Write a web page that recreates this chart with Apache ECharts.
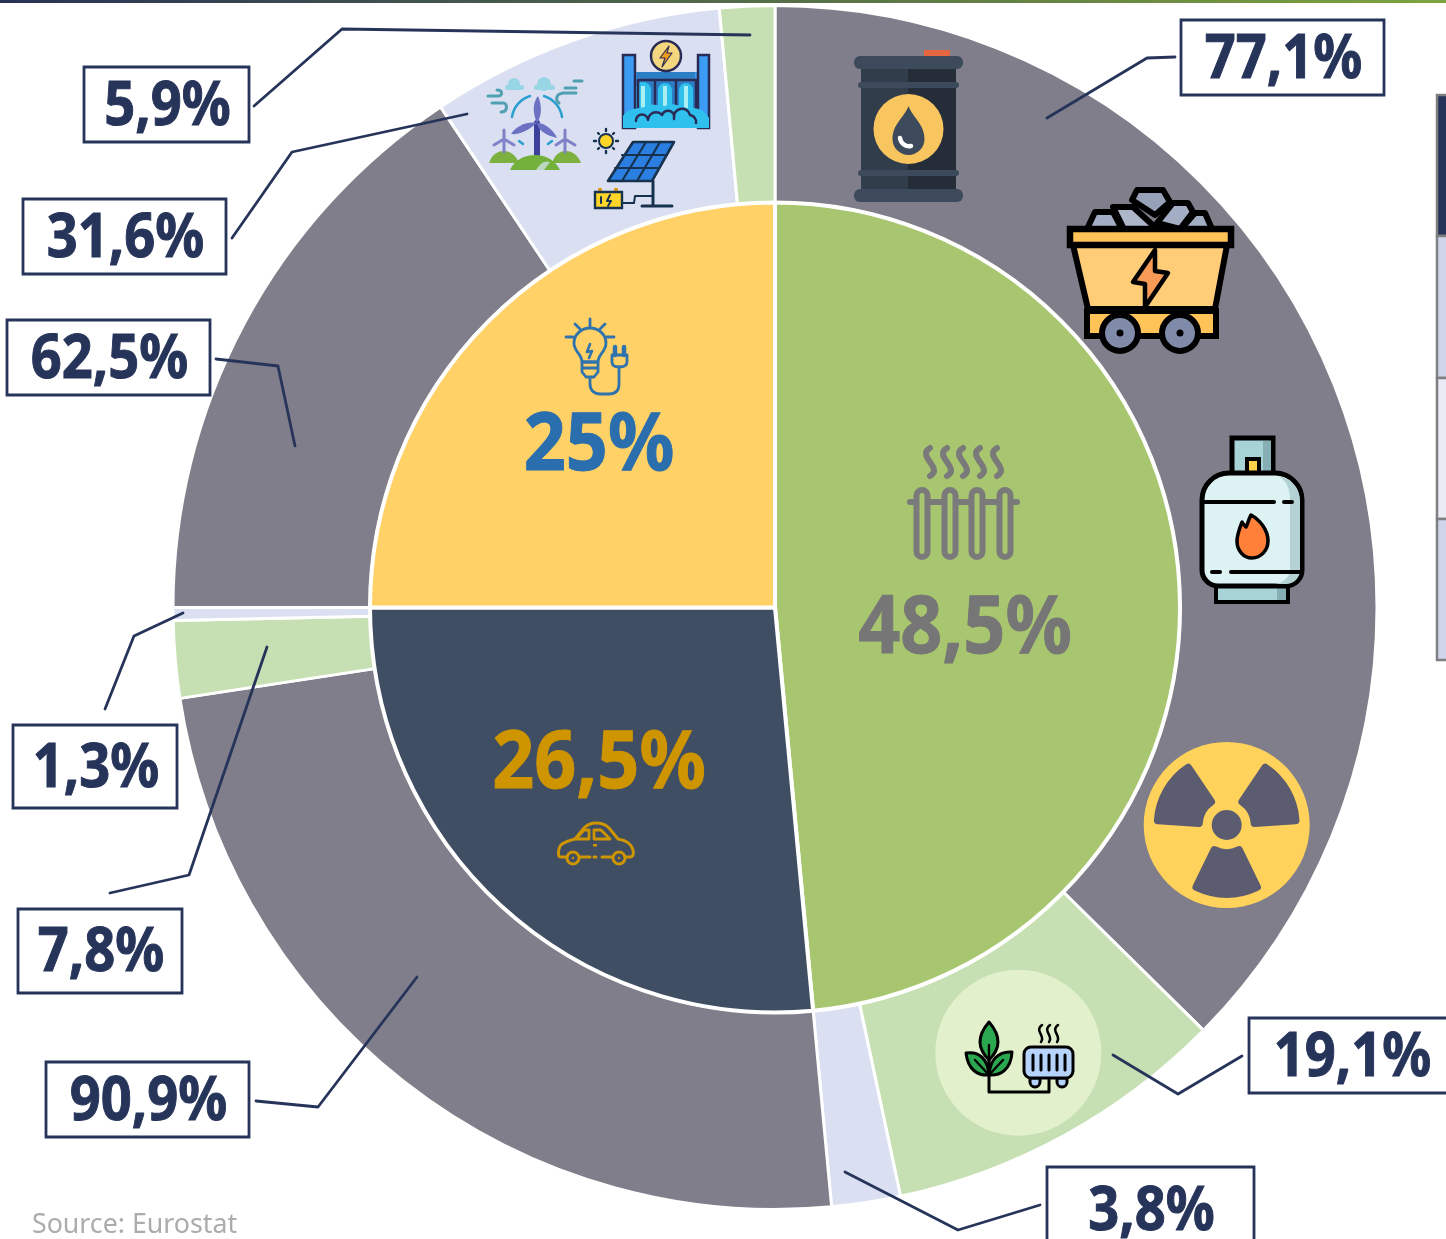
<!DOCTYPE html>
<html lang="en">

<head>
    <meta charset="UTF-8">
    <title>Energy consumption by sector and source</title>
    <script src="https://cdn.jsdelivr.net/npm/echarts@6/dist/echarts.min.js"></script>
    <style>
        html, body { margin: 0; padding: 0; background: #fff; overflow: hidden; }
    </style>
</head>

<body>
    <div id="main" style="width: 1446px; height: 1239px;"></div>
    <script>
        // sector shares, clockwise from the top
        var sectors = ['Heating', 'Transport', 'Electricity'];
        var sectorValues = [48.5, 26.5, 25];
        var sectorLabels = ['48,5%', '26,5%', '25%'];

        // source split inside each sector (percent of that sector)
        var heatingSplit = [77.1, 19.1, 3.8];
        var transportSplit = [90.9, 7.8, 1.3];
        var electricitySplit = [62.5, 31.6, 5.9];
        var splitLabels = [
            ['77,1%', '19,1%', '3,8%'],
            ['90,9%', '7,8%', '1,3%'],
            ['62,5%', '31,6%', '5,9%']
        ];

        var grey = '#7F7E8A', lightGreen = '#C7E0B3', lightBlue = '#DAE0F2';
        var navy = '#27345A';
        var sectorColors = ['#A8C66F', '#3F4E63', '#FFD166'];
        var sectorTextColors = ['#767676', '#CF9500', '#2A6EAD'];
        var splitColors = [
            [grey, lightGreen, lightBlue],
            [grey, lightGreen, lightBlue],
            [grey, lightBlue, lightGreen]
        ];

        var outerData = [];
        [heatingSplit, transportSplit, electricitySplit].forEach(function (split, i) {
            split.forEach(function (pct, j) {
                outerData.push({
                    name: sectors[i] + ' ' + splitLabels[i][j],
                    value: sectorValues[i] * pct / 100,
                    itemStyle: { color: splitColors[i][j] }
                });
            });
        });
        var innerData = sectors.map(function (name, i) {
            return { name: name, value: sectorValues[i], itemStyle: { color: sectorColors[i] } };
        });

        // graphic helpers
        var els = [];
        var FONT = '"Noto Sans", sans-serif';
        var pathCount = 0;
        function add(e) { e.z = 100; e.z2 = els.length; e.silent = true; els.push(e); return e; }
        // the graphic component has no plain path type, so each path is registered as a shape
        function path(d, fill, stroke, lw) {
            var name = 'iconPath' + (pathCount++);
            echarts.graphic.registerShape(name, echarts.graphic.extendPath(d));
            return add({
                type: name, shape: {},
                style: { fill: fill || 'none', stroke: stroke || 'none', lineWidth: lw || 0, lineCap: 'round', lineJoin: 'round' }
            });
        }
        function rect(x, y, w, h, fill, stroke, lw, r) {
            return add({
                type: 'rect', shape: { x: x, y: y, width: w, height: h, r: r || 0 },
                style: { fill: fill || 'none', stroke: stroke || 'none', lineWidth: lw || 0 }
            });
        }
        function circle(cx, cy, r, fill, stroke, lw) {
            return add({
                type: 'circle', shape: { cx: cx, cy: cy, r: r },
                style: { fill: fill || 'none', stroke: stroke || 'none', lineWidth: lw || 0 }
            });
        }
        function text(str, x, y, size, color, weight, sx, align, bold) {
            return add({
                type: 'text', x: x, y: y, scaleX: sx || 1,
                style: {
                    text: str, fill: color, font: (weight || 700) + ' ' + size + 'px ' + FONT,
                    stroke: bold ? color : 'none', lineWidth: bold || 0,
                    textAlign: align || 'center', textVerticalAlign: 'middle'
                }
            });
        }

        // top rule
        add({
            type: 'rect', shape: { x: 0, y: 0, width: 1446, height: 3 },
            style: {
                fill: new echarts.graphic.LinearGradient(0, 0, 1, 0, [
                    { offset: 0, color: '#263355' }, { offset: 1, color: '#7FA33E' }
                ])
            }
        });

        // table clipped at the right edge
        rect(1437, 95, 12, 141, '#27345A', '#7F7F7F', 2.5);
        rect(1437, 236, 12, 142, '#CFD5EA', '#7F7F7F', 2.5);
        rect(1437, 378, 12, 141, '#E9EBF5', '#7F7F7F', 2.5);
        rect(1437, 519, 12, 141, '#CFD5EA', '#7F7F7F', 2.5);

        // callouts
        var calloutBoxes = [
            [[1181, 20, 203, 75], [1249, 1018, 205, 75], [1047, 1167, 207, 85]],
            [[46, 1062, 203, 75], [18, 909, 164, 84], [13, 725, 164, 83]],
            [[7, 320, 203, 75], [23, 199, 203, 75], [84, 67, 165, 75]]
        ];
        var calloutLines = [
            ['M1047 118L1147 58L1175 57', 'M1113 1055L1178 1094L1242 1056', 'M845 1172L958 1230L1040 1205'],
            ['M417 977L318 1107L256 1101', 'M267 647L189 875L110 893', 'M183 613L134 636L105 709'],
            ['M295 446L278 366L216 359', 'M467 114L292 152L232 238', 'M750 35L342 29L254 106']
        ];

        // icons sit on the rings, callout lines on top of them
        // oil barrel
        rect(924, 50, 26, 7, '#E4653F');
        rect(861, 66, 47, 126, '#323D4C');
        rect(908, 66, 48, 126, '#252D38');
        rect(854, 56, 109, 13, '#3C4A5C', null, 0, 6);
        rect(854, 189, 109, 13, '#3C4A5C', null, 0, 6);
        rect(858, 82, 101, 6, '#3C4A5C', null, 0, 3);
        rect(858, 170, 101, 6, '#3C4A5C', null, 0, 3);
        circle(908.5, 129, 35, '#F8C55F');
        path('M908.5 106C904 118 892.5 124 892.5 139A16 16 0 0 0 924.5 139C924.5 124 913 118 908.5 106Z', '#3C4A5C');
        path('M900 138C901 144 906 147 911 146', null, '#fff', 4.5);

        // coal cart
        [
            'M1087 229L1095 212L1113 212L1122 229Z',
            'M1212 229L1205 213L1195 213L1181 229Z',
            'M1113 207L1133 207L1157 229L1124 229Z',
            'M1173 203L1188 203L1193 212L1180 229L1157 223Z'
        ].forEach(function (d, i) { path(d, i == 2 ? '#AEB6C9' : '#A3AEC4', '#000', 6); });
        path('M1137 190L1163 190L1170 202L1155 215L1132 200Z', '#97A2B9', '#000', 6);
        path('M1073 245L1227 245L1215 309L1088 309Z', '#FFCC78', '#000', 6);
        rect(1070, 229, 161, 16, '#FFC357', '#000', 6.5);
        path('M1072 245L1095 245M1121 245L1228 245', null, '#000', 6);
        circle(1108, 245, 3, '#000');
        path('M1155 250L1133 282L1145 284L1145 307L1168 273L1155 271Z', '#F79A55', '#000', 4.5);
        rect(1087, 311, 129, 25, '#FFC357', '#000', 6);
        circle(1120, 333, 18, '#7F8BA8', '#000', 6);
        circle(1180, 333, 18, '#7F8BA8', '#000', 6);
        circle(1120, 333, 3.5, '#000');
        circle(1180, 333, 3.5, '#000');

        // gas bottle
        rect(1232, 438, 41, 36, '#A7D3D6', '#000', 5);
        rect(1263, 441, 8, 31, '#86AEB5');
        rect(1247, 459, 12, 14, '#FFD24A', '#000', 4);
        rect(1216, 586, 72, 16, '#A7D3D6', '#000', 4);
        rect(1277, 588, 9, 12, '#86AEB5');
        path('M1229 473L1275 473A27 27 0 0 1 1302 500L1302 570A16 16 0 0 1 1286 586L1218 586A16 16 0 0 1 1202 570L1202 500A27 27 0 0 1 1229 473Z', '#DCF2F3', '#000', 5);
        path('M1278 476A25 25 0 0 1 1300 500L1300 570A14 14 0 0 1 1286 584L1272 584C1282 584 1290 578 1290 570L1290 500C1290 488 1286 480 1278 476Z', '#B4D1D4');
        path('M1204 502L1274 502M1284 502L1292 502M1212 572L1220 572M1231 572L1300 572', null, '#000', 4);
        path('M1251 515C1248 520 1248 524 1246 527C1244 525 1243 524 1242 522C1239 530 1237 535 1237 541C1237 550 1243 558 1252 558C1261 558 1268 550 1268 541C1268 530 1260 520 1251 515Z', '#FF8038', '#000', 3.5);

        // radiation sign
        circle(1226.7, 825, 83, '#FFD25C');
        circle(1226.7, 825, 15, '#5C5C70');
        [210, 330, 90].forEach(function (deg) {
            var a0 = (deg - 26) * Math.PI / 180, a1 = (deg + 26) * Math.PI / 180, r0 = 28, r1 = 69;
            var cx = 1226.7, cy = 825;
            function pt(r, a) { return (cx + r * Math.cos(a)).toFixed(1) + ' ' + (cy + r * Math.sin(a)).toFixed(1); }
            path('M' + pt(r0, a0) + 'L' + pt(r1, a0) + 'A' + r1 + ' ' + r1 + ' 0 0 1 ' + pt(r1, a1) +
                'L' + pt(r0, a1) + 'A' + r0 + ' ' + r0 + ' 0 0 0 ' + pt(r0, a0) + 'Z', '#5C5C70', '#5C5C70', 8);
        });

        // plant + radiator
        circle(1018.3, 1052.7, 83, '#E3F0CC');
        path('M989 1060L989 1092L1049 1092L1049 1078', null, '#000', 3);
        path('M989 1022C982 1030 980 1036 980 1042C980 1050 985 1056 989 1060C993 1056 998 1050 998 1042C998 1036 996 1030 989 1022Z', '#2BA84F', '#000', 3);
        path('M989 1075C978 1076 968 1070 966 1053C980 1051 988 1060 989 1075Z', '#2BA84F', '#000', 3);
        path('M989 1075C1000 1076 1011 1070 1012 1052C998 1051 990 1060 989 1075Z', '#2BA84F', '#000', 3);
        path('M989 1045L989 1075M975 1060L989 1075M1003 1060L989 1075', null, '#000', 2.4);
        path('M1030 1078L1030 1082A5 5 0 0 0 1040 1082L1040 1078Z', '#B6D4FB', '#000', 3);
        path('M1057 1078L1057 1082A5 5 0 0 0 1067 1082L1067 1078Z', '#B6D4FB', '#000', 3);
        rect(1024, 1047, 49, 31, '#B6D4FB', '#000', 3, 7);
        [1033, 1041, 1049, 1057, 1065].forEach(function (x) {
            path('M' + x + ' 1055L' + x + ' 1070', null, '#000', 3);
        });
        [1040, 1048, 1056].forEach(function (x) {
            path('M' + (x + 2) + ' 1025C' + (x - 6) + ' 1031 ' + (x + 6) + ' 1036 ' + (x + 1) + ' 1042', null, '#000', 2.5);
        });

        // radiator (heating)
        var radColor = '#7A7A7A';
        path('M910 502L1017 502', null, radColor, 6);
        [922, 950, 977, 1005].forEach(function (x) {
            add({
                type: 'rect', shape: { x: x - 5.5, y: 490, width: 11, height: 67, r: 5.5 },
                style: { fill: '#A8C66F', stroke: radColor, lineWidth: 6 }
            });
        });
        [930, 947, 963, 980, 997].forEach(function (x) {
            path('M' + x + ' 448C' + (x - 14) + ' 456 ' + (x + 14) + ' 468 ' + x + ' 476', null, radColor, 6);
        });

        // light bulb
        var bulb = '#2F73AE';
        path('M590 319L590 326M575 324L580 329M605 324L600 329M566 337L573 337M607 337L614 337', null, bulb, 2.8);
        path('M582 362C582 354 574 352 574 343A16 15 0 0 1 606 343C606 352 598 354 598 362Z', null, bulb, 2.8);
        path('M582 362L598 362L598 372L594 377L586 377L582 372ZM582 368L598 368', null, bulb, 2.8);
        path('M590 344L587 352L592 351L589 358', null, bulb, 2.6);
        path('M590 378L590 384C590 391 595 394 600 394L609 394C615 394 619 391 619 384L619 367', null, bulb, 2.8);
        path('M612 355L627 355L627 362C627 366 623 367 619 367C615 367 612 366 612 362Z', null, bulb, 2.8);
        path('M615 355L615 347M624 355L624 347', null, bulb, 4.5);

        // car
        var carC = '#CF9500';
        path('M566 857L561 857C558 857 558 853 559 849C560 844 564 842 575 839L584 828C587 825 591 823 596 823C602 823 606 825 609 828L618 839C626 840 631 843 633 850C634 854 633 857 630 857L626 857', null, carC, 3);
        path('M580 857L590 857M594 857L596 857M602 857L612 857', null, carC, 3);
        circle(573, 858, 6, null, carC, 3);
        circle(619, 858, 6, null, carC, 3);
        circle(573, 858, 1.2, carC);
        circle(619, 858, 1.2, carC);
        path('M576 839L584 830L589 830L589 839ZM594 830L601 830L610 839L594 839Z', null, carC, 2.8);
        rect(593, 844, 4, 2.5, carC);

        // hydro plant
        rect(623, 72, 87, 56, '#3C9BF2');
        rect(637, 72, 58, 40, '#2B7EC4');
        [[643, 8], [665, 7], [686, 7]].forEach(function (c) {
            path('M' + (c[0] - c[1]) + ' 112L' + (c[0] - c[1]) + ' 90A' + c[1] + ' ' + c[1] + ' 0 0 1 ' + (c[0] + c[1]) + ' 90L' + (c[0] + c[1]) + ' 112Z', '#2FC0EE');
            rect(c[0] - 2, 86, 4, 24, '#A9EEF2');
        });
        path('M640 80L696 80', null, '#2A2B55', 2.5);
        [638, 655, 676, 696].forEach(function (x) { path('M' + x + ' 80L' + x + ' 108', null, '#2A2B55', 2.5); });
        rect(623, 55, 12, 73, '#3C9BF2', '#2A2B55', 2.5);
        rect(698, 55, 11, 73, '#3C9BF2', '#2A2B55', 2.5);
        path('M623 128L623 116C630 106 640 110 646 106C652 102 662 108 668 105C676 102 686 110 692 108C700 108 706 112 709 118L709 128Z', '#2FC0EE');
        path('M636 121A6 6 0 0 1 648 120A8 8 0 0 1 662 115A6 6 0 0 1 674 119A8 8 0 0 1 690 115A7 7 0 0 1 696 123', null, '#2A2B55', 2.5);
        circle(666, 56, 15, '#F3D77F', '#2A2B55', 2.5);
        path('M669 46L660 58L665 58L662 67L672 53L667 53Z', '#F39B1B', '#2A2B55', 1.2);

        // solar panel + battery
        path('M653 181L653 206M642 206L672 206', null, '#16324F', 3);
        path('M623 203L634 203L635 196L653 196', null, '#16324F', 2);
        path('M633 142L674 142L652 181L608 181Z', '#2B7FE0', '#16324F', 2.6);
        path('M622 155L666 155M615 168L658 168M646 142L622 181M660 142L637 181', null, '#16324F', 2.2);
        circle(606, 141, 7, '#FFD52A', '#16324F', 2);
        path('M606 129L606 131M606 151L606 153M594 141L596 141M616 141L618 141M598 133L599 134M613 148L614 149M598 149L599 148M613 134L614 133', null, '#16324F', 2.4);
        rect(598, 188, 4, 4, '#E39A20');
        rect(614, 188, 4, 4, '#E39A20');
        rect(595, 192, 27, 16, '#FFD52A', '#16324F', 2.4);
        path('M601 197L601 203M610 195L607 201L611 201L608 206', null, '#16324F', 2);

        // wind turbines
        path('M489 163C492 154 498 151 504 151C510 151 516 155 519 163Z', '#7CB03F');
        path('M552 163C555 154 560 151 566 151C572 151 578 155 581 163Z', '#7CB03F');
        path('M504 130L504 152M494 145L504 139L514 145', null, '#7F82C6', 3);
        path('M565 130L565 152M556 145L565 139L575 145', null, '#7F82C6', 3);
        path('M537 123L537 156', null, '#3D3F9C', 6);
        path('M510 170C514 160 525 155 535 155C548 155 556 162 560 170Z', '#74B03C');
        path('M536 170C540 163 545 160 550 162L544 170Z', '#BCD7BF');
        path('M512 117A26 26 0 0 1 530 96M544 96A26 26 0 0 1 562 117M519 141L523 144M548 144L552 141', null, '#2A9FD0', 2.5);
        path('M537 123C532 112 533 102 538 96C542 105 542 116 537 123Z', '#6D71C3');
        path('M537 123C528 131 518 135 511 134C516 126 528 121 537 123Z', '#6D71C3');
        path('M537 123C546 123 554 131 557 138C548 136 538 131 537 123Z', '#6D71C3');
        circle(514, 84, 6, '#98D6E6');
        rect(505, 85, 19, 5, '#98D6E6', null, 0, 2.5);
        circle(544, 84, 7, '#98D6E6');
        rect(534, 85, 21, 5, '#98D6E6', null, 0, 2.5);
        path('M488 96L498 96C503 96 503 90 497 90M492 103L503 103C508 103 508 112 501 112', null, '#4FA0B0', 3);
        path('M574 81L582 81M565 88L576 88M576 93L563 93C556 94 555 100 559 103', null, '#4FA0B0', 3);

        // callouts drawn last
        splitLabels.forEach(function (group, i) {
            group.forEach(function (label, j) {
                var b = calloutBoxes[i][j];
                path(calloutLines[i][j], null, navy, 2.8);
                rect(b[0], b[1], b[2], b[3], '#fff', navy, 2.8);
                text(label, b[0] + b[2] / 2 + 1, b[1] + b[3] / 2 + 3, 61, navy, 700, 0.89, null, 1);
            });
        });

        // sector labels
        var sectorLabelPos = [[965, 630], [599, 765], [599, 447]];
        sectorLabels.forEach(function (label, i) {
            text(label, sectorLabelPos[i][0], sectorLabelPos[i][1], 80, sectorTextColors[i], 700, 0.92, null, 1);
        });

        text('Source: Eurostat', 32, 1225, 27, '#ACACAC', 400, 0.99, 'left');

        var myChart = echarts.init(document.getElementById('main'), null, { renderer: 'canvas' });
        var option = {
            animation: false,
            graphic: { elements: els },
            series: [
                {
                    type: 'pie', name: 'Source', startAngle: 90, clockwise: true, sort: null,
                    center: [775, 607.5], radius: [405, 602], silent: true,
                    label: { show: false }, labelLine: { show: false },
                    itemStyle: { borderColor: '#fff', borderWidth: 3 },
                    data: outerData
                },
                {
                    type: 'pie', name: 'Sector', startAngle: 90, clockwise: true, sort: null,
                    center: [775, 607.5], radius: [0, 405], silent: true,
                    label: { show: false }, labelLine: { show: false },
                    itemStyle: { borderColor: '#fff', borderWidth: 4 },
                    data: innerData
                }
            ]
        };
        myChart.setOption(option);
    </script>
</body>

</html>
